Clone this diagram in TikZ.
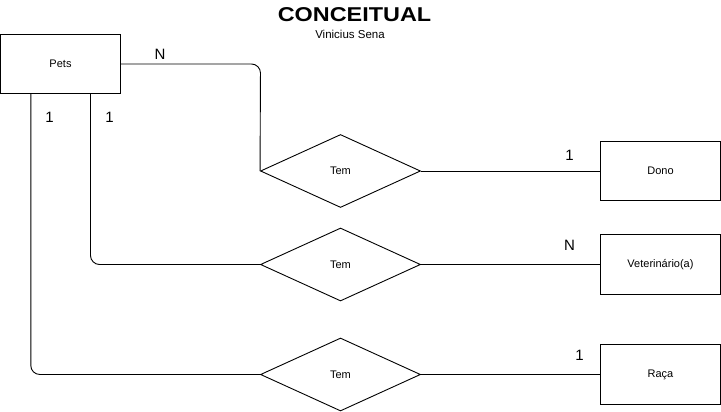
\documentclass[tikz,border=0pt]{standalone}
\usepackage{fontspec}
\setmainfont{Liberation Sans}
\usetikzlibrary{shapes.geometric}
\begin{document}
\begin{tikzpicture}[x=1pt,y=-1pt,
  ent/.style={draw, line width=0.9pt, minimum width=120pt, minimum height=59.5pt, inner sep=0pt, font=\fontsize{11}{13}\selectfont},
  rel/.style={draw, line width=0.9pt, diamond, minimum width=160pt, minimum height=73pt, inner sep=0pt, aspect=2.2, font=\fontsize{11}{13}\selectfont},
  conn/.style={line width=0.9pt, rounded corners=9pt},
  card/.style={font=\fontsize{15}{17}\selectfont, inner sep=0pt}]
\useasboundingbox (0,0) rectangle (721,412);
\node[font=\bfseries\fontsize{20}{22}\selectfont, inner sep=0pt] (title) at (354.5,15) {\scalebox{1.17}[1]{CONCEITUAL}};
\node[font=\fontsize{11.5}{13}\selectfont, inner sep=0pt] (author) at (350,34.5) {Vinicius Sena};

\node[ent] (pets) at (60.5,64) {Pets};
\node[ent] (dono) at (660.5,171) {Dono};
\node[ent] (vet) at (660.5,264.5) {Veterinário(a)};
\node[ent] (raca) at (660.5,374.5) {Raça};

\node[rel] (r1) at (340.5,171) {Tem};
\node[rel] (r2) at (340.5,264.5) {Tem};
\node[rel] (r3) at (340.5,374.5) {Tem};

\draw[conn] (pets.east |- 0,64) -- (260.5,64) -- (r1.west);
\draw[conn] (90.5,94) -- (90.5,264.5) -- (r2.west);
\draw[conn] (30.8,94) -- (30.8,374.5) -- (r3.west);
\draw[line width=0.9pt] (r1.east) -- (dono.west);
\draw[line width=0.9pt] (r2.east) -- (vet.west);
\draw[line width=0.9pt] (r3.east) -- (raca.west);

\node[card] (cN1) at (160,54) {N};
\node[card] (c1a) at (49.5,117) {1};
\node[card] (c1b) at (109.5,117) {1};
\node[card] (c1c) at (569.5,155) {1};
\node[card] (cN2) at (569.5,245) {N};
\node[card] (c1d) at (579.5,355) {1};
\end{tikzpicture}
\end{document}
